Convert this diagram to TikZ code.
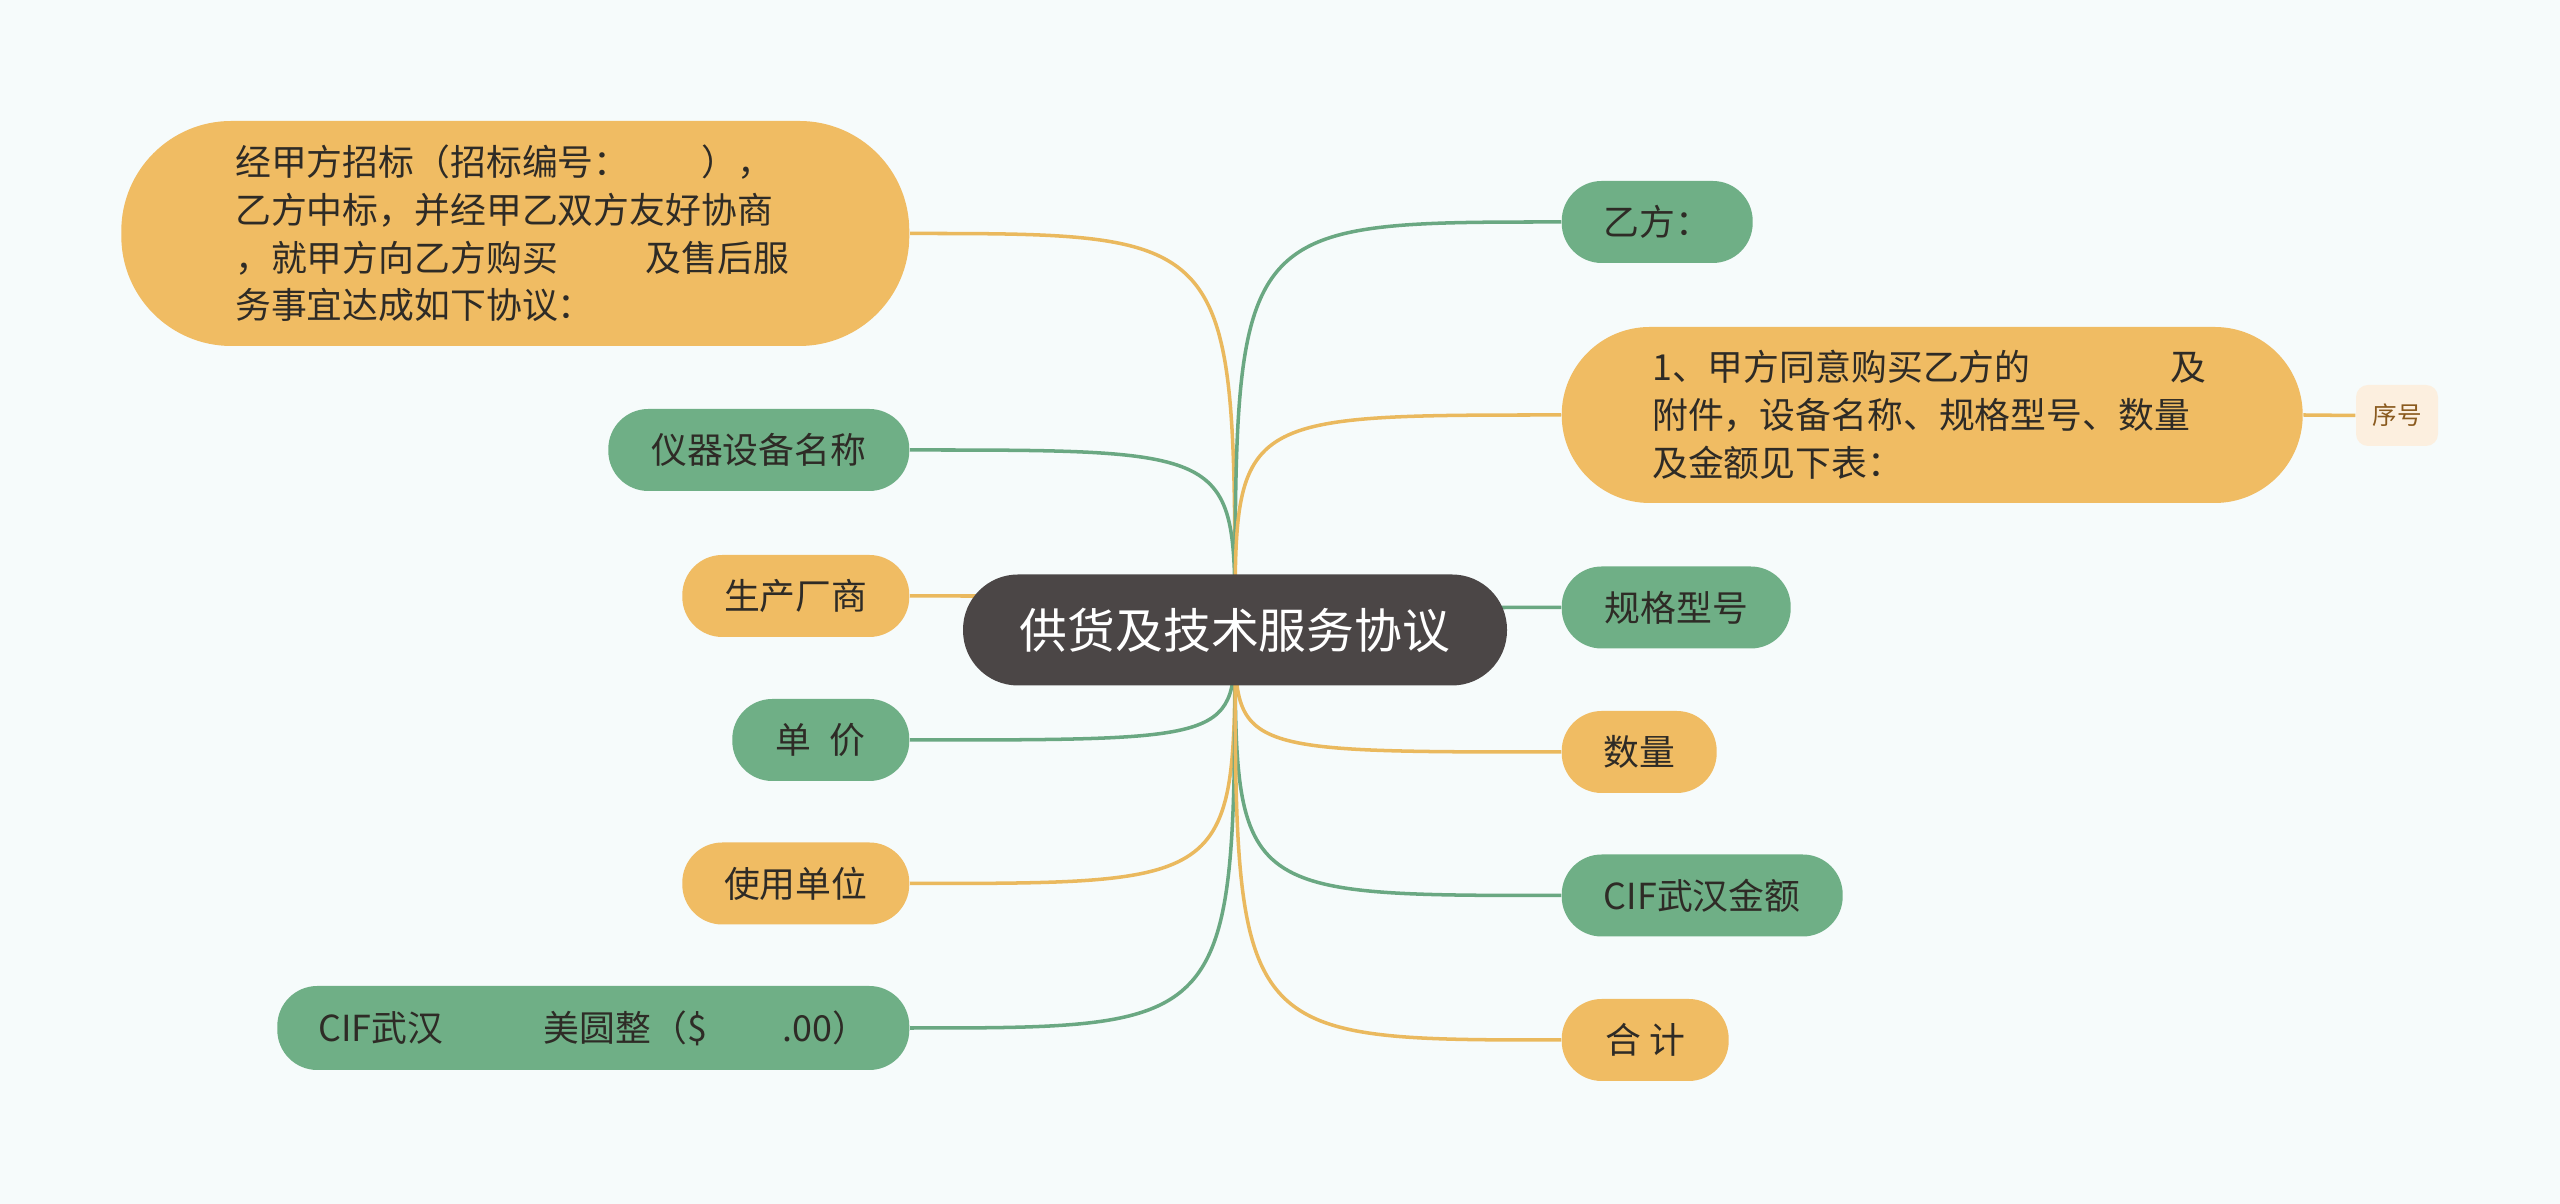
\documentclass[tikz,border=0pt]{standalone}
\usepackage{fontspec}
\setmainfont{Noto Sans CJK SC}
\usepackage{xcolor}
\usetikzlibrary{backgrounds}

\definecolor{bgcol}{HTML}{F6FBFB}
\definecolor{orfill}{HTML}{F0BC63}
\definecolor{grfill}{HTML}{6FAF86}
\definecolor{rootfill}{HTML}{4B4646}
\definecolor{orline}{HTML}{EAB95E}
\definecolor{grline}{HTML}{6AA882}
\definecolor{tagfill}{HTML}{FCEFDF}
\definecolor{tagtext}{HTML}{8A5A1E}
\definecolor{txt}{HTML}{2E2B26}

\begin{document}
\begin{tikzpicture}[every node/.style={rounded corners=0.4cm, align=center, text=txt, font=\fontsize{10.2pt}{13.6pt}\selectfont, inner sep=0pt, minimum height=0.82cm},
  orangenode/.style={fill=orfill}, greennode/.style={fill=grfill},
  bigbox/.style={rounded corners=1.1cm, align=left, text width=5.6cm},
  conn/.style={line width=1pt}]
\useasboundingbox (0,0) rectangle (25.6,12.04);
\node[fill=rootfill, text=white, rounded corners=0.55cm, minimum width=5.44cm, minimum height=1.11cm, font=\fontsize{13.6pt}{16pt}\selectfont] (root) at (12.35,5.74) {供货及技术服务协议};
% left side
\node[orangenode, bigbox, anchor=east, minimum width=7.88cm, minimum height=2.25cm] (intro) at (9.10,9.705) {经甲方招标（招标编号：\hspace{2em}），\\乙方中标，并经甲乙双方友好协商\\，就甲方向乙方购买\hspace{2.45em}及售后服\\务事宜达成如下协议：};
\node[greennode, anchor=east, minimum width=3.01cm] (device) at (9.10,7.54) {仪器设备名称};
\node[orangenode, anchor=east, minimum width=2.27cm] (maker) at (9.10,6.08) {生产厂商};
\node[greennode, anchor=east, minimum width=1.77cm] (price) at (9.10,4.64) {单\hspace{0.5em}价};
\node[orangenode, anchor=east, minimum width=2.27cm] (user) at (9.10,3.205) {使用单位};
\node[greennode, anchor=east, minimum width=6.32cm, minimum height=0.84cm] (total) at (9.10,1.76) {CIF武汉\hspace{2.8em}美圆整（\$\hspace{2.1em}.00）};
% right side
\node[greennode, anchor=west, minimum width=1.91cm] (partyb) at (15.61,9.82) {乙方：};
\node[orangenode, bigbox, anchor=west, rounded corners=0.88cm, minimum width=7.41cm, minimum height=1.76cm] (clause) at (15.61,7.89) {1、甲方同意购买乙方的\hspace{3.9em}及\\附件，设备名称、规格型号、数量\\及金额见下表：};
\node[fill=tagfill, text=tagtext, rounded corners=0.12cm, minimum width=0.82cm, minimum height=0.61cm, font=\fontsize{7pt}{8pt}\selectfont] (serial) at (23.97,7.885) {序号};
\node[greennode, anchor=west, minimum width=2.29cm] (model) at (15.61,5.965) {规格型号};
\node[orangenode, anchor=west, minimum width=1.55cm] (qty) at (15.61,4.52) {数量};
\node[greennode, anchor=west, minimum width=2.81cm] (amount) at (15.61,3.085) {CIF武汉金额};
\node[orangenode, anchor=west, minimum width=1.67cm] (sum) at (15.61,1.64) {合 计};

\begin{scope}[on background layer]
\fill[bgcol] (0,0) rectangle (25.6,12.04);
\draw[conn, orline] (root.center) .. controls (root.center |- intro.east) .. (intro.east);
\draw[conn, grline] (root.center) .. controls (root.center |- device.east) .. (device.east);
\draw[conn, orline] (root.center) .. controls (root.center |- maker.east) .. (maker.east);
\draw[conn, grline] (root.center) .. controls (root.center |- price.east) .. (price.east);
\draw[conn, orline] (root.center) .. controls (root.center |- user.east) .. (user.east);
\draw[conn, grline] (root.center) .. controls (root.center |- total.east) .. (total.east);
\draw[conn, grline] (root.center) .. controls (root.center |- partyb.west) .. (partyb.west);
\draw[conn, orline] (root.center) .. controls (root.center |- clause.west) .. (clause.west);
\draw[conn, grline] (root.center) .. controls (root.center |- model.west) .. (model.west);
\draw[conn, orline] (root.center) .. controls (root.center |- qty.west) .. (qty.west);
\draw[conn, grline] (root.center) .. controls (root.center |- amount.west) .. (amount.west);
\draw[conn, orline] (root.center) .. controls (root.center |- sum.west) .. (sum.west);
\draw[conn, orline] (clause.east) -- (serial.west);
\end{scope}
\end{tikzpicture}
\end{document}
